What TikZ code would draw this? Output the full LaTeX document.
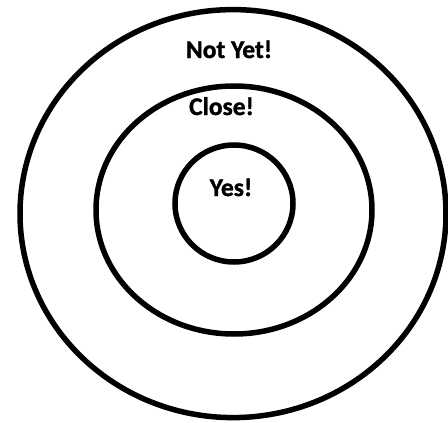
\documentclass[tikz,border=0pt]{standalone}
\usepackage{fontspec}
\setmainfont[BoldFeatures={FakeBold=1.2}]{Carlito}
\begin{document}
\begin{tikzpicture}[x=1pt,y=-1pt,
  ring/.style={draw=black,line width=5.5pt},
  lbl/.style={font=\fontsize{25.5}{28}\selectfont\bfseries,anchor=base,inner sep=0pt}]
\useasboundingbox (0,0) rectangle (448,423);
\fill[white] (0,0) rectangle (448,423);
\draw[ring] (233,213.6) ellipse [x radius=213, y radius=204];
\draw[ring] (234,210) ellipse [x radius=138, y radius=124];
\draw[ring] (234,203.5) ellipse [x radius=59, y radius=58.5];
\node[lbl] (notyet) at (229,58) {Not Yet!};
\node[lbl] (close) at (221.5,115) {Close!};
\node[lbl] (yes) at (231,196) {Yes!};
\end{tikzpicture}
\end{document}
